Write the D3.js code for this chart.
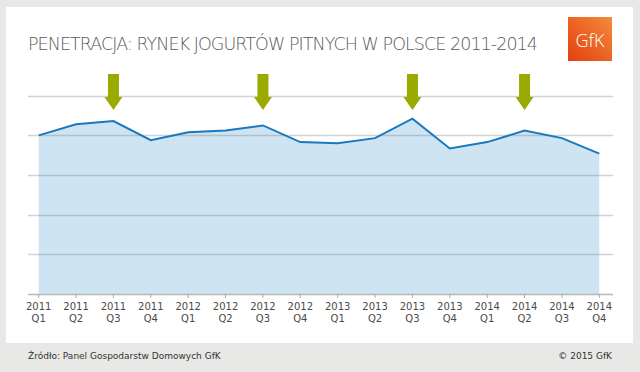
<!DOCTYPE html>
<html>
<head>
<meta charset="utf-8">
<script src="https://cdn.jsdelivr.net/npm/d3@7.9.0/dist/d3.min.js"></script>
<style>
  body { margin: 0; background: #e8e8e6; }
  svg { display: block; font-family: "DejaVu Sans", sans-serif; }
</style>
</head>
<body>
<svg id="chart" width="640" height="372"></svg>
<script>
const years = ['2011', '2011', '2011', '2011', '2012', '2012', '2012', '2012',
  '2013', '2013', '2013', '2013', '2014', '2014', '2014', '2014'];
const quarters = ['Q1', 'Q2', 'Q3', 'Q4', 'Q1', 'Q2', 'Q3', 'Q4',
  'Q1', 'Q2', 'Q3', 'Q4', 'Q1', 'Q2', 'Q3', 'Q4'];
const penetration = [40.0, 42.8, 43.6, 38.8, 40.8, 41.2, 42.5, 38.3,
  38.0, 39.3, 44.2, 36.7, 38.3, 41.2, 39.3, 35.4];
// quarters marked with arrows
const marked = [2, 6, 10, 13];
const gridTicks = [0, 10, 20, 30, 40, 50];

const svg = d3.select('#chart');

// white card
svg.append('rect').attr('x', 6).attr('y', 7).attr('width', 627).attr('height', 336)
  .attr('fill', '#fff');

const titleText = 'PENETRACJA: RYNEK JOGURTÓW PITNYCH W POLSCE 2011-2014';
const title = svg.append('text')
  .attr('x', 28).attr('y', 50)
  .attr('font-size', 17.5).attr('font-weight', 200)
  .attr('fill', '#5a5a5a')
  .text(titleText);
// squeeze the letters so the title ends where the reference does (~x=537)
const natural = title.node().getComputedTextLength();
title.attr('letter-spacing', (509 - natural) / titleText.length);

// logo
const grad = svg.append('defs').append('linearGradient').attr('id', 'logo')
  .attr('x1', 0).attr('y1', 1).attr('x2', 1).attr('y2', 0);
grad.append('stop').attr('offset', 0).attr('stop-color', '#e2400f');
grad.append('stop').attr('offset', 1).attr('stop-color', '#f58a3a');
svg.append('rect').attr('x', 568).attr('y', 17).attr('width', 44).attr('height', 44)
  .attr('fill', 'url(#logo)');
svg.append('text').attr('x', 590).attr('y', 47).attr('text-anchor', 'middle')
  .attr('font-size', 18).attr('fill', '#fff').attr('font-weight', 300)
  .attr('font-family', 'Open Sans, sans-serif')
  .text('GfK');

const x = d3.scaleLinear().domain([0, penetration.length - 1]).range([38.7, 599.3]);
const y = d3.scaleLinear().domain([0, 50]).range([294, 95.7]);

const area = d3.area()
  .x((d, i) => x(i))
  .y0(y(0))
  .y1(d => y(d));
const line = d3.line()
  .x((d, i) => x(i))
  .y(d => y(d));

svg.append('path').datum(penetration).attr('d', area).attr('fill', '#cfe4f2');

svg.append('g').selectAll('line').data(gridTicks).join('line')
  .attr('x1', 28).attr('x2', 613)
  .attr('y1', d => Math.round(y(d)) + 0.5).attr('y2', d => Math.round(y(d)) + 0.5)
  .attr('stroke', d => d === 0 ? '#b8b8b8' : 'rgba(110,120,130,0.33)')
  .attr('stroke-width', 1.5);

svg.append('path').datum(penetration).attr('d', line)
  .attr('fill', 'none').attr('stroke', '#1a78bd').attr('stroke-width', 2);

// x axis ticks + labels
const ax = svg.append('g');
ax.selectAll('line').data(penetration).join('line')
  .attr('x1', (d, i) => x(i)).attr('x2', (d, i) => x(i))
  .attr('y1', 294).attr('y2', 298)
  .attr('stroke', '#aaa');
const lab = ax.selectAll('text').data(years).join('text')
  .attr('text-anchor', 'middle').attr('font-size', 10).attr('fill', '#4a4a4a');
lab.append('tspan').attr('x', (d, i) => x(i)).attr('y', 310).text(d => d);
lab.append('tspan').attr('x', (d, i) => x(i)).attr('y', 322).text((d, i) => quarters[i]);

// arrows
svg.append('g').selectAll('path').data(marked).join('path')
  .attr('d', i => {
    const cx = x(i);
    return `M${cx - 5.5},74 L${cx + 5.5},74 L${cx + 5.5},97 L${cx + 9},97 L${cx},110 L${cx - 9},97 L${cx - 5.5},97 Z`;
  })
  .attr('fill', '#9aaa00');

// footer
svg.append('text').attr('x', 28).attr('y', 359).attr('font-size', 9).attr('fill', '#333')
  .text('Źródło: Panel Gospodarstw Domowych GfK');
svg.append('text').attr('x', 612).attr('y', 359).attr('font-size', 9).attr('fill', '#333')
  .attr('text-anchor', 'end')
  .text('© 2015 GfK');
</script>
</body>
</html>
